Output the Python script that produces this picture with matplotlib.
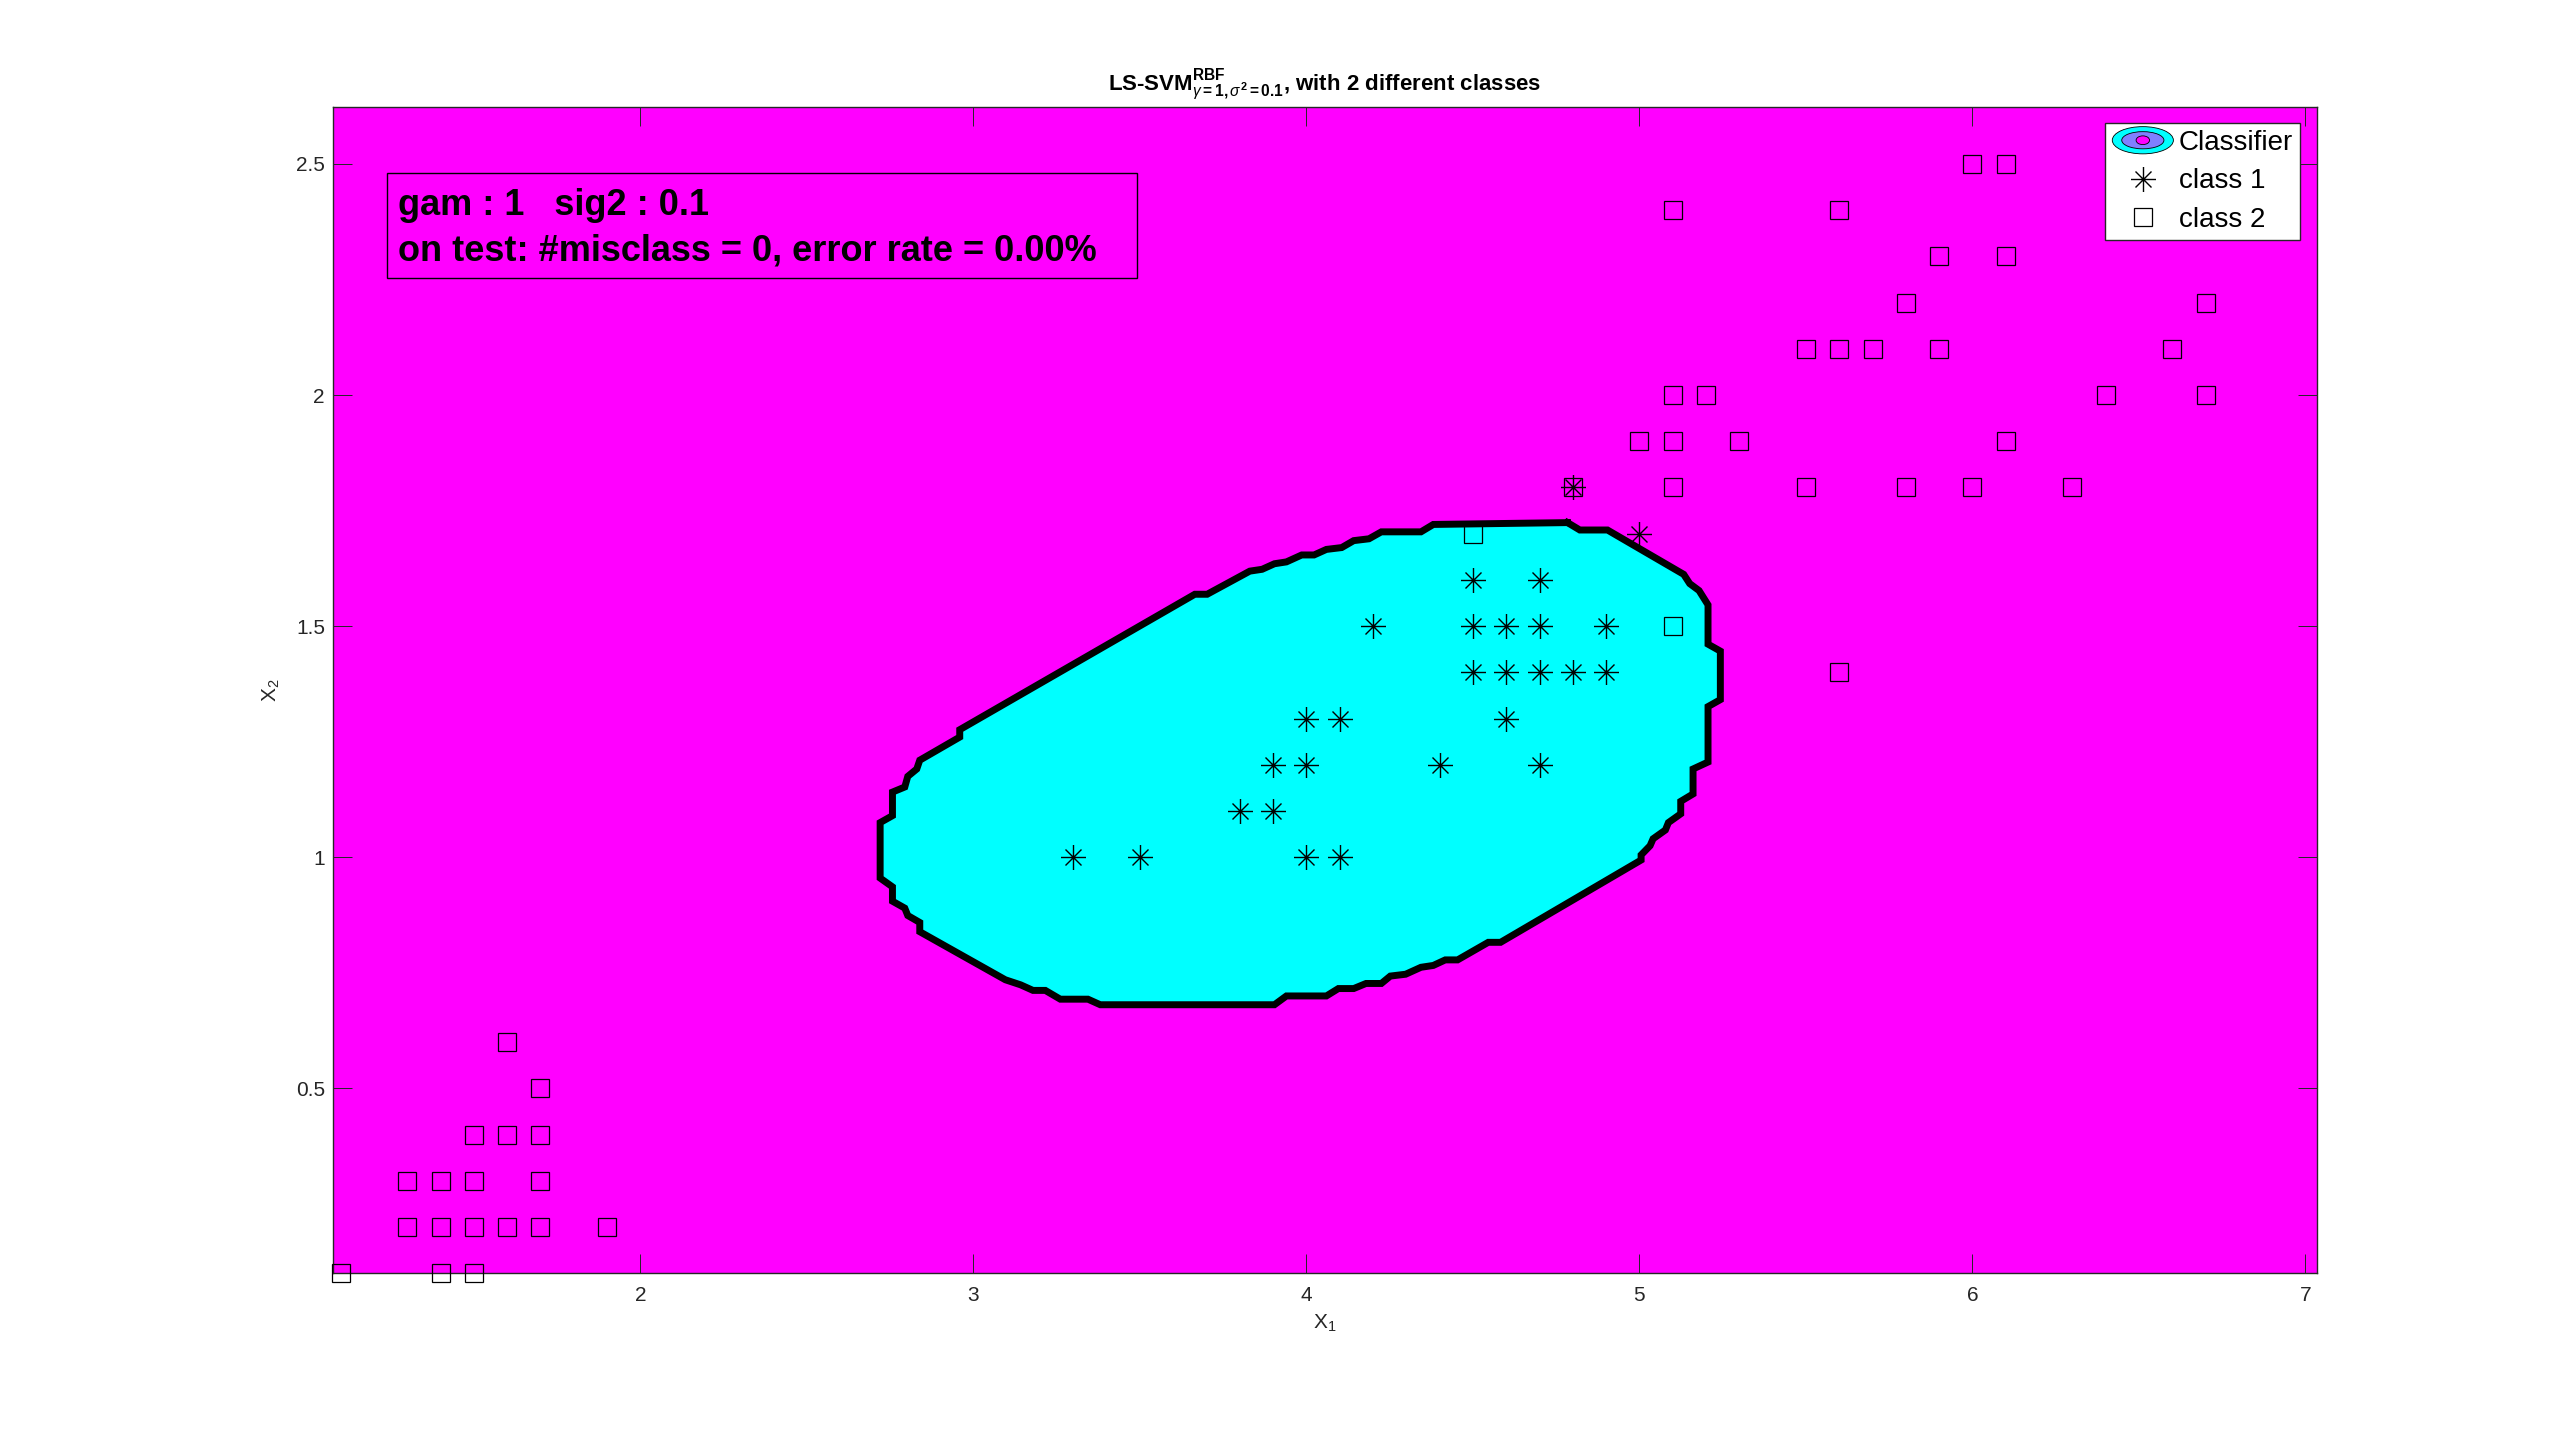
import matplotlib
matplotlib.use('Agg')
import matplotlib.pyplot as plt
from matplotlib.path import Path
from matplotlib.patches import Ellipse, Rectangle, Patch
from matplotlib.legend_handler import HandlerBase
from matplotlib.ticker import FormatStrFormatter

plt.rcParams['font.family'] = ['Liberation Sans', 'DejaVu Sans']
plt.rcParams['mathtext.fontset'] = 'custom'
plt.rcParams['mathtext.rm'] = 'Liberation Sans'
plt.rcParams['mathtext.it'] = 'Liberation Sans:italic'
plt.rcParams['mathtext.bf'] = 'Liberation Sans:bold'

# class 1 (asterisks)
class1_x = [3.3, 3.5, 4.0, 4.1,
            3.8, 3.9,
            3.9, 4.0, 4.4, 4.7,
            4.0, 4.1, 4.6,
            4.5, 4.6, 4.7, 4.8, 4.9,
            4.2, 4.5, 4.6, 4.7, 4.9,
            4.5, 4.7,
            5.0,
            4.8]
class1_y = [1.0, 1.0, 1.0, 1.0,
            1.1, 1.1,
            1.2, 1.2, 1.2, 1.2,
            1.3, 1.3, 1.3,
            1.4, 1.4, 1.4, 1.4, 1.4,
            1.5, 1.5, 1.5, 1.5, 1.5,
            1.6, 1.6,
            1.7,
            1.8]

# class 2 (squares)
class2_x = [1.1, 1.4, 1.5,
            1.3, 1.4, 1.5, 1.6, 1.7, 1.9,
            1.3, 1.4, 1.5, 1.7,
            1.5, 1.6, 1.7,
            1.7,
            1.6,
            5.6,
            5.1,
            4.5,
            4.8, 5.1, 5.5, 5.8, 6.0, 6.3,
            5.0, 5.1, 5.3, 6.1,
            5.1, 5.2, 6.4, 6.7,
            5.5, 5.6, 5.7, 5.9, 6.6,
            5.8, 6.7,
            5.9, 6.1,
            5.1, 5.6,
            6.0, 6.1]
class2_y = [0.1, 0.1, 0.1,
            0.2, 0.2, 0.2, 0.2, 0.2, 0.2,
            0.3, 0.3, 0.3, 0.3,
            0.4, 0.4, 0.4,
            0.5,
            0.6,
            1.4,
            1.5,
            1.7,
            1.8, 1.8, 1.8, 1.8, 1.8, 1.8,
            1.9, 1.9, 1.9, 1.9,
            2.0, 2.0, 2.0, 2.0,
            2.1, 2.1, 2.1, 2.1, 2.1,
            2.2, 2.2,
            2.3, 2.3,
            2.4, 2.4,
            2.5, 2.5]

# classifier boundary (zero level)
boundary_x = [4.784, 4.821, 4.904, 5.133, 5.151, 5.179, 5.206, 5.206, 5.243, 5.243,
              5.206, 5.206, 5.161, 5.161, 5.124, 5.124, 5.087, 5.078, 5.041, 5.032,
              5.005, 5.005, 4.583, 4.546, 4.454, 4.417, 4.381, 4.344, 4.298, 4.252,
              4.225, 4.179, 4.142, 4.096, 4.060, 3.940, 3.904, 3.381, 3.344, 3.261,
              3.216, 3.179, 3.142, 3.096, 2.839, 2.839, 2.803, 2.794, 2.757, 2.757,
              2.720, 2.720, 2.757, 2.757, 2.794, 2.803, 2.830, 2.839, 2.959, 2.959,
              3.665, 3.702, 3.830, 3.867, 3.904, 3.940, 3.986, 4.023, 4.060, 4.106,
              4.142, 4.188, 4.225, 4.344, 4.381, 4.784]
boundary_y = [1.724, 1.708, 1.708, 1.612, 1.592, 1.577, 1.546, 1.461, 1.446, 1.341,
              1.326, 1.206, 1.191, 1.137, 1.121, 1.094, 1.075, 1.059, 1.040, 1.025,
              1.005, 0.994, 0.816, 0.816, 0.778, 0.778, 0.766, 0.762, 0.747, 0.743,
              0.727, 0.727, 0.716, 0.716, 0.700, 0.700, 0.681, 0.681, 0.693, 0.693,
              0.712, 0.712, 0.724, 0.735, 0.839, 0.859, 0.874, 0.890, 0.905, 0.936,
              0.955, 1.075, 1.090, 1.141, 1.152, 1.175, 1.191, 1.210, 1.260, 1.276,
              1.569, 1.569, 1.619, 1.623, 1.635, 1.639, 1.654, 1.654, 1.666, 1.670,
              1.685, 1.689, 1.704, 1.704, 1.720, 1.724]

x_ticks = [2, 3, 4, 5, 6, 7]
y_ticks = [0.5, 1, 1.5, 2, 2.5]

info_lines = ['gam : 1   sig2 : 0.1',
              'on test: #misclass = 0, error rate = 0.00%']

axcol = '#262626'

# matlab style '*' marker
star = Path([(0, -1), (0, 1), (-1, 0), (1, 0),
             (-0.64, -0.64), (0.64, 0.64), (-0.64, 0.64), (0.64, -0.64)],
            [Path.MOVETO, Path.LINETO] * 4)


class HandlerRings(HandlerBase):
    def create_artists(self, legend, orig_handle, xdescent, ydescent,
                       width, height, fontsize, trans):
        cx = width / 2 - xdescent
        cy = height / 2 - ydescent
        out = []
        for sx, sy, col in [(1.0, 1.0, '#00ffff'), (0.69, 0.63, '#8080ff'), (0.22, 0.32, '#ff00ff')]:
            e = Ellipse((cx, cy), width * sx, height * 1.4 * sy, facecolor=col,
                        edgecolor='black', lw=0.6, transform=trans)
            out.append(e)
        return out


fig = plt.figure(figsize=(25.6, 14.31), dpi=100)
ax = fig.add_axes([0.1302, 0.1102, 0.7748, 0.815])
ax.set_facecolor('#ff00ff')

ax.fill(boundary_x, boundary_y, color='#00ffff', zorder=1)
ax.plot(boundary_x, boundary_y, color='black', lw=5, solid_joinstyle='miter', zorder=2)

ax.plot(class1_x, class1_y, linestyle='none', marker=star, markersize=18,
        markeredgewidth=1.0, color='black', zorder=4, label='class 1')
ax.plot(class2_x, class2_y, linestyle='none', marker='s', markersize=13,
        markeredgewidth=0.9, markerfacecolor='none', markeredgecolor='black',
        zorder=3, label='class 2', clip_on=False)

ax.set_xlim(1.078, 7.034)
ax.set_ylim(0.1, 2.623)
ax.set_xticks(x_ticks)
ax.set_yticks(y_ticks)
ax.yaxis.set_major_formatter(FormatStrFormatter('%g'))
ax.tick_params(direction='in', length=14, width=0.7, color=axcol, labelcolor=axcol,
               labelsize=15, top=True, right=True)
ax.tick_params(axis='x', pad=9)
ax.tick_params(axis='y', pad=6)
for s in ax.spines.values():
    s.set_color(axcol)
    s.set_linewidth(1.0)

ax.set_xlabel(r'X$_1$', fontsize=15, color=axcol, labelpad=6)
ax.set_ylabel(r'X$_2$', fontsize=15, color=axcol, labelpad=10)
ax.set_title(r'LS-SVM$^{\mathbf{RBF}}_{\gamma\mathbf{=1,}\sigma^{\mathbf{2}}\mathbf{=0.1}}$, with 2 different classes',
             fontsize=16, fontweight='bold', pad=12)

# info box
ax.add_patch(Rectangle((0.0271, 0.8534), 0.3779, 0.09, transform=ax.transAxes,
                       facecolor='none', edgecolor='black', lw=1.0, zorder=5))
ax.text(0.0326, 0.9074, info_lines[0], transform=ax.transAxes, fontsize=26,
        fontweight='bold', va='baseline', ha='left', zorder=6)
ax.text(0.0326, 0.8688, info_lines[1], transform=ax.transAxes, fontsize=26,
        fontweight='bold', va='baseline', ha='left', zorder=6)

classifier = Patch(label='Classifier')
h1, h2 = ax.get_legend_handles_labels()[0]
leg = ax.legend([classifier, h1, h2], ['Classifier', 'class 1', 'class 2'],
                handler_map={classifier: HandlerRings()},
                loc='upper right', bbox_to_anchor=(0.9916, 0.9863), borderaxespad=0,
                fontsize=20, handlelength=2.2, handletextpad=0.2, borderpad=0.25,
                labelspacing=0.45, fancybox=False, framealpha=1, edgecolor=axcol)
leg.get_frame().set_linewidth(1.0)

fig.savefig('out.png', dpi=100, facecolor='white')
